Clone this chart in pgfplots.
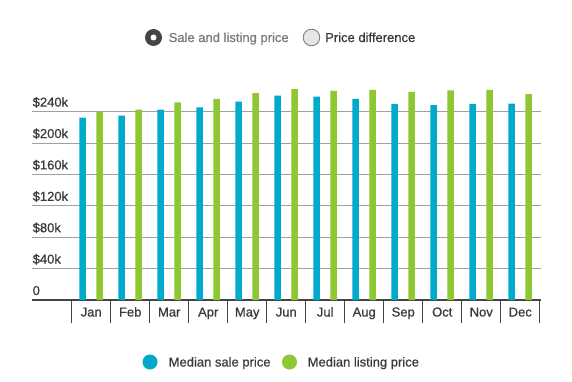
\documentclass[border=0pt]{standalone}
\usepackage{pgfplots}
\pgfplotsset{compat=1.18}
\usepackage{fontspec}
\setmainfont{Liberation Sans}[FakeBold=0.6]
\definecolor{cyanbar}{HTML}{00AACB}
\definecolor{greenbar}{HTML}{8DC731}
\definecolor{txt}{HTML}{3A3A3A}
\definecolor{axisc}{HTML}{444444}
\definecolor{gridc}{HTML}{A0A0A0}
\definecolor{legray}{HTML}{7A7A7A}
\definecolor{radiofill}{HTML}{E6E6E6}
\newcommand{\lblfont}{\fontsize{13}{15}\selectfont}
\begin{document}
\begin{tikzpicture}[x=1pt,y=1pt]
\path[use as bounding box, fill=white] (0,0) rectangle (572,-382);
\begin{axis}[
  at={(32pt,-300pt)}, anchor=south west, scale only axis,
  width=509.3pt, height=219.7pt,
  xmin=-0.518, xmax=12.54, ymin=0, ymax=280000,
  axis x line*=bottom, axis y line*=left,
  x axis line style={color=axisc, line width=1.8pt},
  y axis line style={draw=none},
  ytick={0,40000,80000,120000,160000,200000,240000},
  yticklabels={0,\$40k,\$80k,\$120k,\$160k,\$200k,\$240k},
  scaled y ticks=false,
  ymajorgrids, grid style={color=gridc, line width=0.9pt},
  ytick style={draw=none},
  yticklabel style={anchor=base west, inner sep=0pt, xshift=0.5pt, yshift=5pt, font=\lblfont, text=txt},
  xtick={1,2,3,4,5,6,7,8,9,10,11,12},
  xticklabels={Jan,Feb,Mar,Apr,May,Jun,Jul,Aug,Sep,Oct,Nov,Dec},
  major tick length=0pt,
  xtick style={color=axisc, line width=1pt},
  xticklabel style={anchor=base, inner sep=0pt, yshift=-16.5pt, font=\lblfont, text=txt},
  extra x ticks={0.5,1.5,2.5,3.5,4.5,5.5,6.5,7.5,8.5,9.5,10.5,11.5,12.5},
  extra x tick labels={},
  extra x tick style={major tick length=23pt, tick align=outside, grid=none},
  clip=false,
  ybar, bar width=6.5pt,
]
\addplot[ybar, bar shift=-8.5pt, fill=cyanbar, draw=none] coordinates {
(1,232300) (2,234900) (3,242500) (4,245600) (5,252700) (6,260400)
(7,259100) (8,256200) (9,249800) (10,248500) (11,249800) (12,250200)};
\addplot[ybar, bar shift=8.5pt, fill=greenbar, draw=none] coordinates {
(1,239600) (2,242500) (3,252000) (4,256200) (5,263800) (6,268900)
(7,266400) (8,267700) (9,265100) (10,267300) (11,267700) (12,262500)};
\end{axis}
% top toggle
\fill[axisc] (153.5,-37.5) circle (8.5);
\fill[white] (153.5,-37.5) circle (3);
\node[anchor=base west, inner sep=0pt, text=legray, font=\lblfont] at (168.5,-42) {Sale and listing price};
\filldraw[fill=radiofill, draw=legray, line width=0.8pt] (311.5,-37.5) circle (8.3);
\node[anchor=base west, inner sep=0pt, text=txt, font=\lblfont] at (325,-42) {Price difference};
% bottom legend
\fill[cyanbar] (150,-362) circle (7.5);
\node[anchor=base west, inner sep=0pt, text=txt, font=\lblfont] at (168.5,-366.5) {Median sale price};
\fill[greenbar] (289.5,-362) circle (7.5);
\node[anchor=base west, inner sep=0pt, text=txt, font=\lblfont] at (307.5,-366.5) {Median listing price};
\end{tikzpicture}
\end{document}
